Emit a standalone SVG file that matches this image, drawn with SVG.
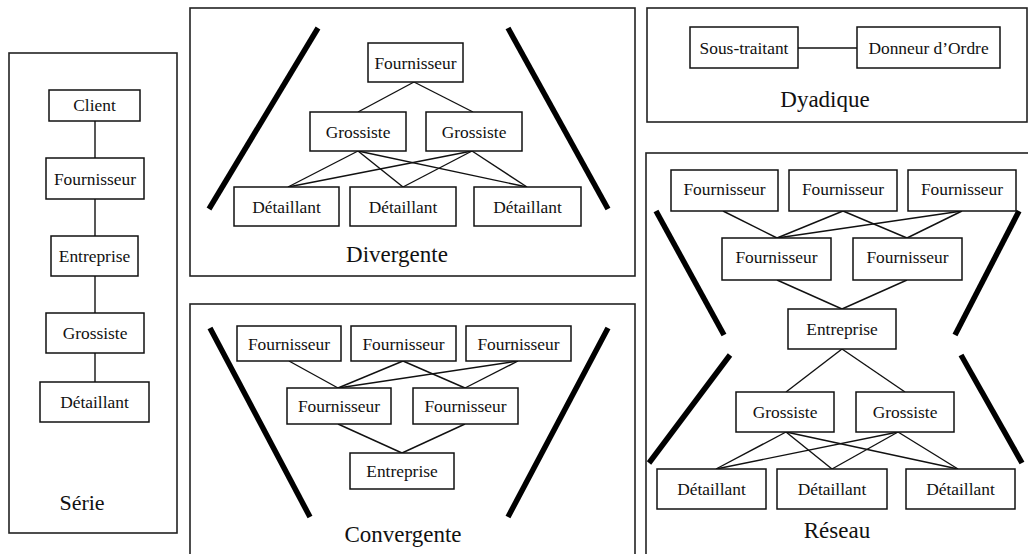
<svg xmlns="http://www.w3.org/2000/svg" width="1028" height="554" viewBox="0 0 1028 554">
<style>
.panel{fill:none;stroke:#222;stroke-width:1.6}
.node rect{fill:#fff;stroke:#111;stroke-width:1.5}
.node text{font-family:"Liberation Serif","Times New Roman",serif;font-size:17.4px;fill:#111;text-anchor:middle}
.lbl{font-family:"Liberation Serif","Times New Roman",serif;font-size:23px;fill:#111;text-anchor:middle}
.conn line{stroke:#111;stroke-width:1.4}
.thick line{stroke:#000;stroke-width:5.5;stroke-linecap:butt}
</style>
<rect width="1028" height="554" fill="#fff"/>
<!-- panels -->
<g id="panels">
<rect class="panel" x="9" y="53" width="168" height="480"/>
<rect class="panel" x="190" y="8" width="445" height="268"/>
<rect class="panel" x="190" y="304" width="445" height="260"/>
<rect class="panel" x="647" y="8" width="380" height="114"/>
<rect class="panel" x="646" y="153" width="390" height="410"/>
</g>
<g id="labels">
<text class="lbl" x="82" y="510" style="font-size:22px">Série</text>
<text class="lbl" x="397" y="262">Divergente</text>
<text class="lbl" x="403" y="542">Convergente</text>
<text class="lbl" x="825" y="107">Dyadique</text>
<text class="lbl" x="837" y="538">Réseau</text>
</g>
<g id="thick" class="thick">
<line x1="318" y1="28" x2="209" y2="209"/>
<line x1="508" y1="28" x2="608" y2="209"/>
<line x1="210" y1="328" x2="310" y2="517"/>
<line x1="608" y1="328" x2="508" y2="517"/>
<line x1="656" y1="211" x2="724" y2="335"/>
<line x1="1019" y1="211" x2="955" y2="335"/>
<line x1="730" y1="355" x2="649" y2="463"/>
<line x1="961" y1="355" x2="1022" y2="463"/>
</g>
<g id="connectors" class="conn">
<!-- serie -->
<line x1="95" y1="121" x2="95" y2="158"/>
<line x1="95" y1="199" x2="95" y2="236"/>
<line x1="95" y1="276" x2="95" y2="313"/>
<line x1="95" y1="353" x2="95" y2="382"/>
<!-- divergente -->
<line x1="414" y1="82" x2="358" y2="112"/>
<line x1="414" y1="82" x2="473" y2="112"/>
<line x1="358" y1="151" x2="288" y2="187"/>
<line x1="358" y1="151" x2="403" y2="187"/>
<line x1="358" y1="151" x2="527" y2="187"/>
<line x1="472" y1="151" x2="288" y2="187"/>
<line x1="472" y1="151" x2="403" y2="187"/>
<line x1="472" y1="151" x2="527" y2="187"/>
<!-- convergente -->
<line x1="289" y1="361" x2="338" y2="388"/>
<line x1="403" y1="361" x2="338" y2="388"/>
<line x1="403" y1="361" x2="465" y2="388"/>
<line x1="518" y1="361" x2="338" y2="388"/>
<line x1="518" y1="361" x2="465" y2="388"/>
<line x1="338" y1="424" x2="402" y2="453"/>
<line x1="465" y1="424" x2="402" y2="453"/>
<!-- dyadique -->
<line x1="798" y1="48" x2="857" y2="48"/>
<!-- reseau -->
<line x1="723" y1="211" x2="777" y2="238"/>
<line x1="843" y1="211" x2="777" y2="238"/>
<line x1="843" y1="211" x2="907" y2="238"/>
<line x1="962" y1="211" x2="777" y2="238"/>
<line x1="962" y1="211" x2="907" y2="238"/>
<line x1="777" y1="280" x2="842" y2="309"/>
<line x1="907" y1="280" x2="842" y2="309"/>
<line x1="842" y1="349" x2="786" y2="392"/>
<line x1="842" y1="349" x2="905" y2="392"/>
<line x1="786" y1="432" x2="716" y2="469"/>
<line x1="786" y1="432" x2="832" y2="469"/>
<line x1="786" y1="432" x2="958" y2="469"/>
<line x1="898" y1="432" x2="716" y2="469"/>
<line x1="898" y1="432" x2="832" y2="469"/>
<line x1="898" y1="432" x2="958" y2="469"/>
</g>
<!-- Série nodes -->
<g id="s-client" class="node"><rect x="49" y="90" width="91" height="31"/><text x="94.5" y="111">Client</text></g>
<g id="s-fournisseur" class="node"><rect x="46" y="158" width="98" height="41"/><text x="95" y="184.5">Fournisseur</text></g>
<g id="s-entreprise" class="node"><rect x="51" y="236" width="87" height="40"/><text x="94.5" y="262">Entreprise</text></g>
<g id="s-grossiste" class="node"><rect x="46" y="313" width="98" height="40"/><text x="95" y="339">Grossiste</text></g>
<g id="s-detaillant" class="node"><rect x="40" y="382" width="109" height="40"/><text x="94.5" y="408">Détaillant</text></g>
<!-- Divergente nodes -->
<g id="d-fournisseur" class="node"><rect x="368" y="43" width="95" height="39"/><text x="415.5" y="68.5">Fournisseur</text></g>
<g id="d-grossiste1" class="node"><rect x="310" y="112" width="96" height="39"/><text x="358" y="137.5">Grossiste</text></g>
<g id="d-grossiste2" class="node"><rect x="426" y="112" width="96" height="39"/><text x="474" y="137.5">Grossiste</text></g>
<g id="d-detaillant1" class="node"><rect x="234" y="187" width="105" height="39"/><text x="286.5" y="212.5">Détaillant</text></g>
<g id="d-detaillant2" class="node"><rect x="350" y="187" width="106" height="39"/><text x="403" y="212.5">Détaillant</text></g>
<g id="d-detaillant3" class="node"><rect x="474" y="187" width="107" height="39"/><text x="527.5" y="212.5">Détaillant</text></g>
<!-- Convergente nodes -->
<g id="c-fournisseur1" class="node"><rect x="237" y="326" width="104" height="35"/><text x="289" y="349.5">Fournisseur</text></g>
<g id="c-fournisseur2" class="node"><rect x="351" y="326" width="105" height="35"/><text x="403.5" y="349.5">Fournisseur</text></g>
<g id="c-fournisseur3" class="node"><rect x="466" y="326" width="105" height="35"/><text x="518.5" y="349.5">Fournisseur</text></g>
<g id="c-fournisseur4" class="node"><rect x="287" y="388" width="104" height="36"/><text x="339" y="412">Fournisseur</text></g>
<g id="c-fournisseur5" class="node"><rect x="413" y="388" width="105" height="36"/><text x="465.5" y="412">Fournisseur</text></g>
<g id="c-entreprise" class="node"><rect x="350" y="453" width="104" height="36"/><text x="402" y="477">Entreprise</text></g>
<!-- Dyadique nodes -->
<g id="y-soustraitant" class="node"><rect x="690" y="27" width="108" height="41"/><text x="744" y="53.5">Sous-traitant</text></g>
<g id="y-donneur" class="node"><rect x="857" y="27" width="143" height="41"/><text x="928.5" y="53.5">Donneur d’Ordre</text></g>
<!-- Réseau nodes -->
<g id="r-fournisseur1" class="node"><rect x="671" y="170" width="107" height="41"/><text x="724.5" y="195">Fournisseur</text></g>
<g id="r-fournisseur2" class="node"><rect x="789" y="170" width="108" height="41"/><text x="843" y="195">Fournisseur</text></g>
<g id="r-fournisseur3" class="node"><rect x="908" y="170" width="108" height="41"/><text x="962" y="195">Fournisseur</text></g>
<g id="r-fournisseur4" class="node"><rect x="722" y="238" width="109" height="42"/><text x="776.5" y="263">Fournisseur</text></g>
<g id="r-fournisseur5" class="node"><rect x="853" y="238" width="109" height="42"/><text x="907.5" y="263">Fournisseur</text></g>
<g id="r-entreprise" class="node"><rect x="788" y="309" width="108" height="40"/><text x="842" y="335">Entreprise</text></g>
<g id="r-grossiste1" class="node"><rect x="736" y="392" width="98" height="40"/><text x="785" y="418">Grossiste</text></g>
<g id="r-grossiste2" class="node"><rect x="856" y="392" width="98" height="40"/><text x="905" y="418">Grossiste</text></g>
<g id="r-detaillant1" class="node"><rect x="657" y="469" width="109" height="40"/><text x="711.5" y="495">Détaillant</text></g>
<g id="r-detaillant2" class="node"><rect x="777" y="469" width="110" height="40"/><text x="832" y="495">Détaillant</text></g>
<g id="r-detaillant3" class="node"><rect x="906" y="469" width="109" height="40"/><text x="960.5" y="495">Détaillant</text></g>
</svg>
